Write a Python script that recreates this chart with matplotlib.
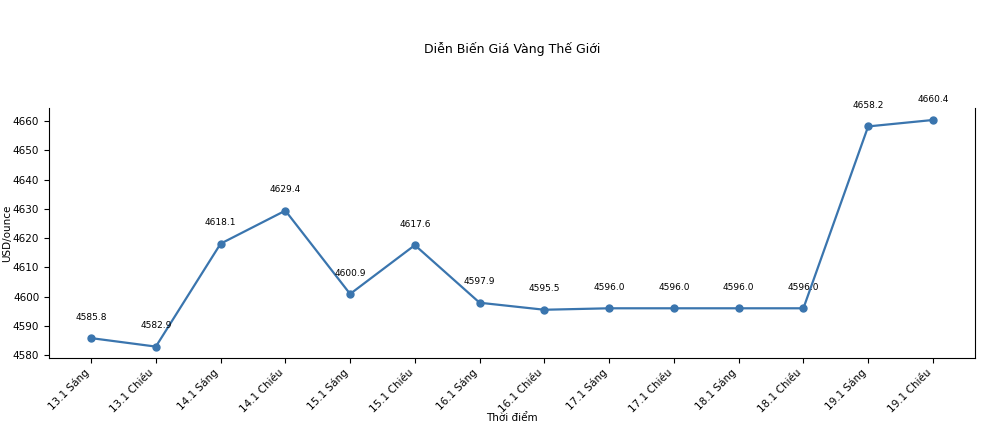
import matplotlib
matplotlib.use('Agg')
import matplotlib.pyplot as plt

labels = ['13.1 Sáng', '13.1 Chiều', '14.1 Sáng', '14.1 Chiều', '15.1 Sáng', '15.1 Chiều',
          '16.1 Sáng', '16.1 Chiều', '17.1 Sáng', '17.1 Chiều', '18.1 Sáng', '18.1 Chiều',
          '19.1 Sáng', '19.1 Chiều']
prices = [4585.8, 4582.9, 4618.1, 4629.4, 4600.9, 4617.6, 4597.9, 4595.5,
          4596.0, 4596.0, 4596.0, 4596.0, 4658.2, 4660.4]

fig = plt.figure(figsize=(9.82, 4.42), dpi=100)
ax = fig.add_axes([49 / 982, 1 - 358 / 442, (975 - 49) / 982, (358 - 108) / 442])
x = range(len(labels))
ax.plot(x, prices, marker='o', color='#3a75ae', linewidth=1.6, markersize=5)
for i, v in zip(x, prices):
    ax.annotate(f'{v:.1f}', (i, v), xytext=(0, 15), textcoords='offset points',
                ha='center', va='center', fontsize=6.5)

ax.set_xticks(list(x))
ax.set_xticklabels(labels, rotation=45, ha='right', fontsize=7.5)
ax.tick_params(axis='y', labelsize=7.5)
ax.set_xlim(-0.65, 13.65)
ax.set_ylim(4579, 4664.5)
ax.spines['top'].set_visible(False)
ax.set_xlabel('Thời điểm', fontsize=7.5)
ax.set_ylabel('USD/ounce', fontsize=7.5)
ax.yaxis.set_label_coords(-0.04, 0.5)
ax.xaxis.set_label_coords(0.5, -0.22)
fig.text(512 / 982, 1 - 49 / 442, 'Diễn Biến Giá Vàng Thế Giới', ha='center', va='center', fontsize=9)

fig.savefig('out.png', dpi=100)
